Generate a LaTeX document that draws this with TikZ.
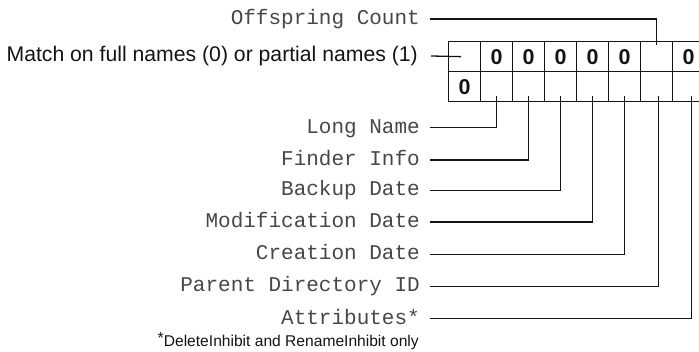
\documentclass[tikz,border=0pt]{standalone}
\usepackage{fontspec}
\setmainfont{Liberation Sans}
\newfontfamily\labmono{Liberation Mono}
\definecolor{labgray}{gray}{0.28}
\definecolor{ink}{gray}{0.08}
\begin{document}
\begin{tikzpicture}[x=1pt,y=-1pt,
  cell/.style={draw=ink, line width=1.3pt, minimum width=32pt, minimum height=30pt,
    inner sep=0pt, anchor=north west, text=ink,
    font=\fontsize{21.5}{21.5}\selectfont\bfseries},
  mlab/.style={anchor=east, inner sep=0pt, text=labgray, text height=15pt, text depth=4pt,
    font=\labmono\fontsize{21}{21}\selectfont},
  slab/.style={anchor=east, inner sep=0pt, text=ink, text height=15pt, text depth=3pt,
    font=\fontsize{21.2}{22}\selectfont},
  conn/.style={draw=ink, line width=1.3pt}]
\useasboundingbox (0,0) rectangle (699,352);

% table cells
\foreach \i/\t in {1/,2/0,3/0,4/0,5/0,6/0,7/,8/0}{
  \node[cell] (t\i) at ({448+32*(\i-1)},41) {\t};
}
\foreach \i/\t in {1/0,2/,3/,4/,5/,6/,7/,8/}{
  \node[cell] (b\i) at ({448+32*(\i-1)},71) {\t};
}

% labels
\node[mlab] (oc) at (420,19) {Offspring Count};
\node[slab] (mt) at (418,56) {Match on full names (0) or partial names (1)};
\node[mlab] (ln) at (420,127.7) {Long Name};
\node[mlab] (fi) at (420,160) {Finder Info};
\node[mlab] (bd) at (420,190.5) {Backup Date};
\node[mlab] (md) at (420,222) {Modification Date};
\node[mlab] (cd) at (420,254.5) {Creation Date};
\node[mlab] (pd) at (420,286.3) {Parent Directory ID};
\node[mlab] (at) at (420,318.7) {Attributes*};
\node[anchor=base east, inner sep=0pt, text=ink, font=\fontsize{15.6}{16}\selectfont]
  (fn) at (419,347) {\raisebox{3pt}{\fontsize{16}{16}\selectfont *}DeleteInhibit and RenameInhibit only};

% connectors
\draw[conn] ([xshift=10pt]oc.east) -| ([yshift=-4pt]t7.north);
\draw[conn] ([xshift=13pt]mt.east) -- ([xshift=13pt]t1.west);
\draw[conn] ([xshift=10pt]ln.east) -| ([yshift=6pt]b2.south);
\draw[conn] ([xshift=10pt]fi.east) -| ([yshift=6pt]b3.south);
\draw[conn] ([xshift=10pt]bd.east) -| ([yshift=6pt]b4.south);
\draw[conn] ([xshift=10pt]md.east) -| ([yshift=6pt]b5.south);
\draw[conn] ([xshift=10pt]cd.east) -| ([yshift=6pt]b6.south);
\draw[conn] ([xshift=10pt]pd.east) -| ([yshift=6pt,xshift=1.5pt]b7.south);
\draw[conn] ([xshift=10pt]at.east) -| ([yshift=6pt,xshift=2.5pt]b8.south);
\end{tikzpicture}
\end{document}
